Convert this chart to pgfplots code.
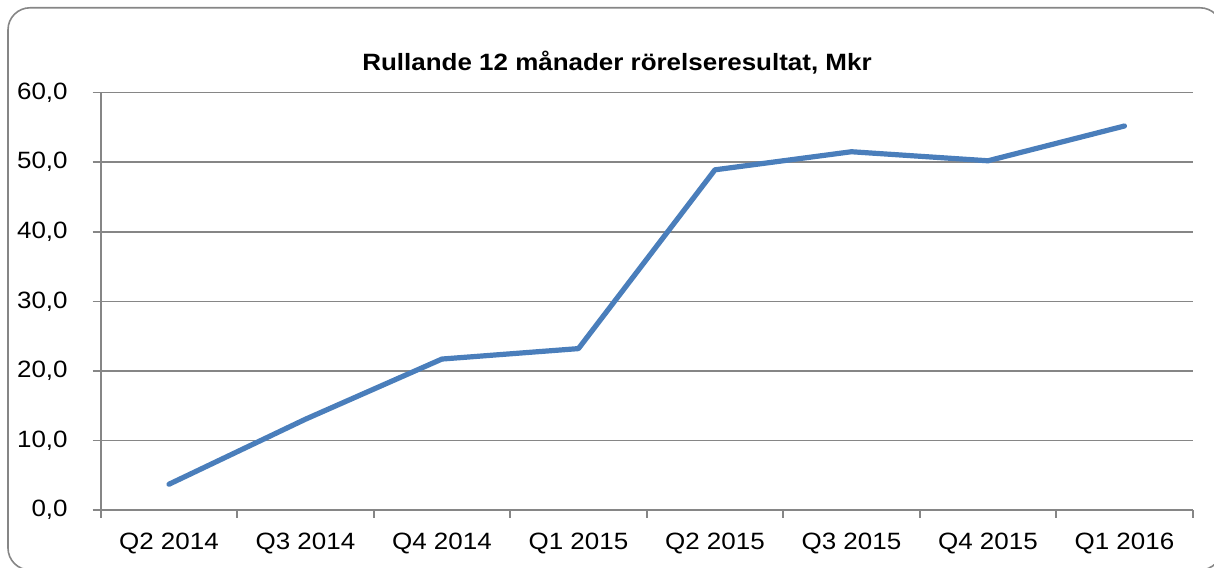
\documentclass[border=0pt]{standalone}
\usepackage{pgfplots}
\pgfplotsset{compat=1.18}
\usepackage{fontspec}
\setmainfont{Liberation Sans}[FakeStretch=1.1]
\definecolor{linecol}{HTML}{4A7EBB}
\definecolor{axgray}{HTML}{868686}
\begin{document}
\begin{tikzpicture}[x=1pt,y=1pt]
\useasboundingbox (0,0) rectangle (607,283.5);
\begin{scope}
\clip (0,0) rectangle (607,283.5);
\draw[axgray, line width=0.8pt, rounded corners=11pt] (4,-1.5) rectangle (611,279.6);
\end{scope}
\node[anchor=base, font=\fontsize{11.8}{14}\selectfont\bfseries] at (308.5,248.3) {Rullande 12 månader rörelseresultat, Mkr};
\begin{axis}[
  at={(50.35pt,28.5pt)}, anchor=south west,
  scale only axis, width=546pt, height=208.7pt,
  xmin=0, xmax=8, ymin=0, ymax=60,
  axis x line*=bottom, axis y line*=left,
  axis line style={axgray, line width=0.8pt, -},
  xtick={0.5,1.5,2.5,3.5,4.5,5.5,6.5,7.5},
  xticklabels={Q2 2014,Q3 2014,Q4 2014,Q1 2015,Q2 2015,Q3 2015,Q4 2015,Q1 2016},
  major x tick style={draw=none},
  minor xtick={0,1,2,3,4,5,6,7,8},
  minor x tick style={axgray, line width=0.8pt},
  minor tick length=4pt,
  ytick={0,10,20,30,40,50,60},
  major tick length=4pt,
  tick align=outside,
  y tick style={axgray, line width=0.8pt},
  ymajorgrids, grid style={axgray, line width=0.8pt},
  /pgf/number format/fixed, /pgf/number format/fixed zerofill,
  /pgf/number format/precision=1, /pgf/number format/use comma,
  /pgf/number format/assume math mode=true,
  tick label style={font=\fontsize{11.8}{14}\selectfont, black},
  xticklabel style={yshift=-4pt},
  yticklabel style={xshift=-9pt},
  clip=false,
]
\addplot[linecol, line width=2.6pt, line cap=round, line join=round] coordinates {
  (0.5,3.7) (1.5,13.05) (2.5,21.7) (3.5,23.2) (4.5,48.9) (5.5,51.5) (6.5,50.2) (7.5,55.2)
};
\end{axis}
\end{tikzpicture}
\end{document}
